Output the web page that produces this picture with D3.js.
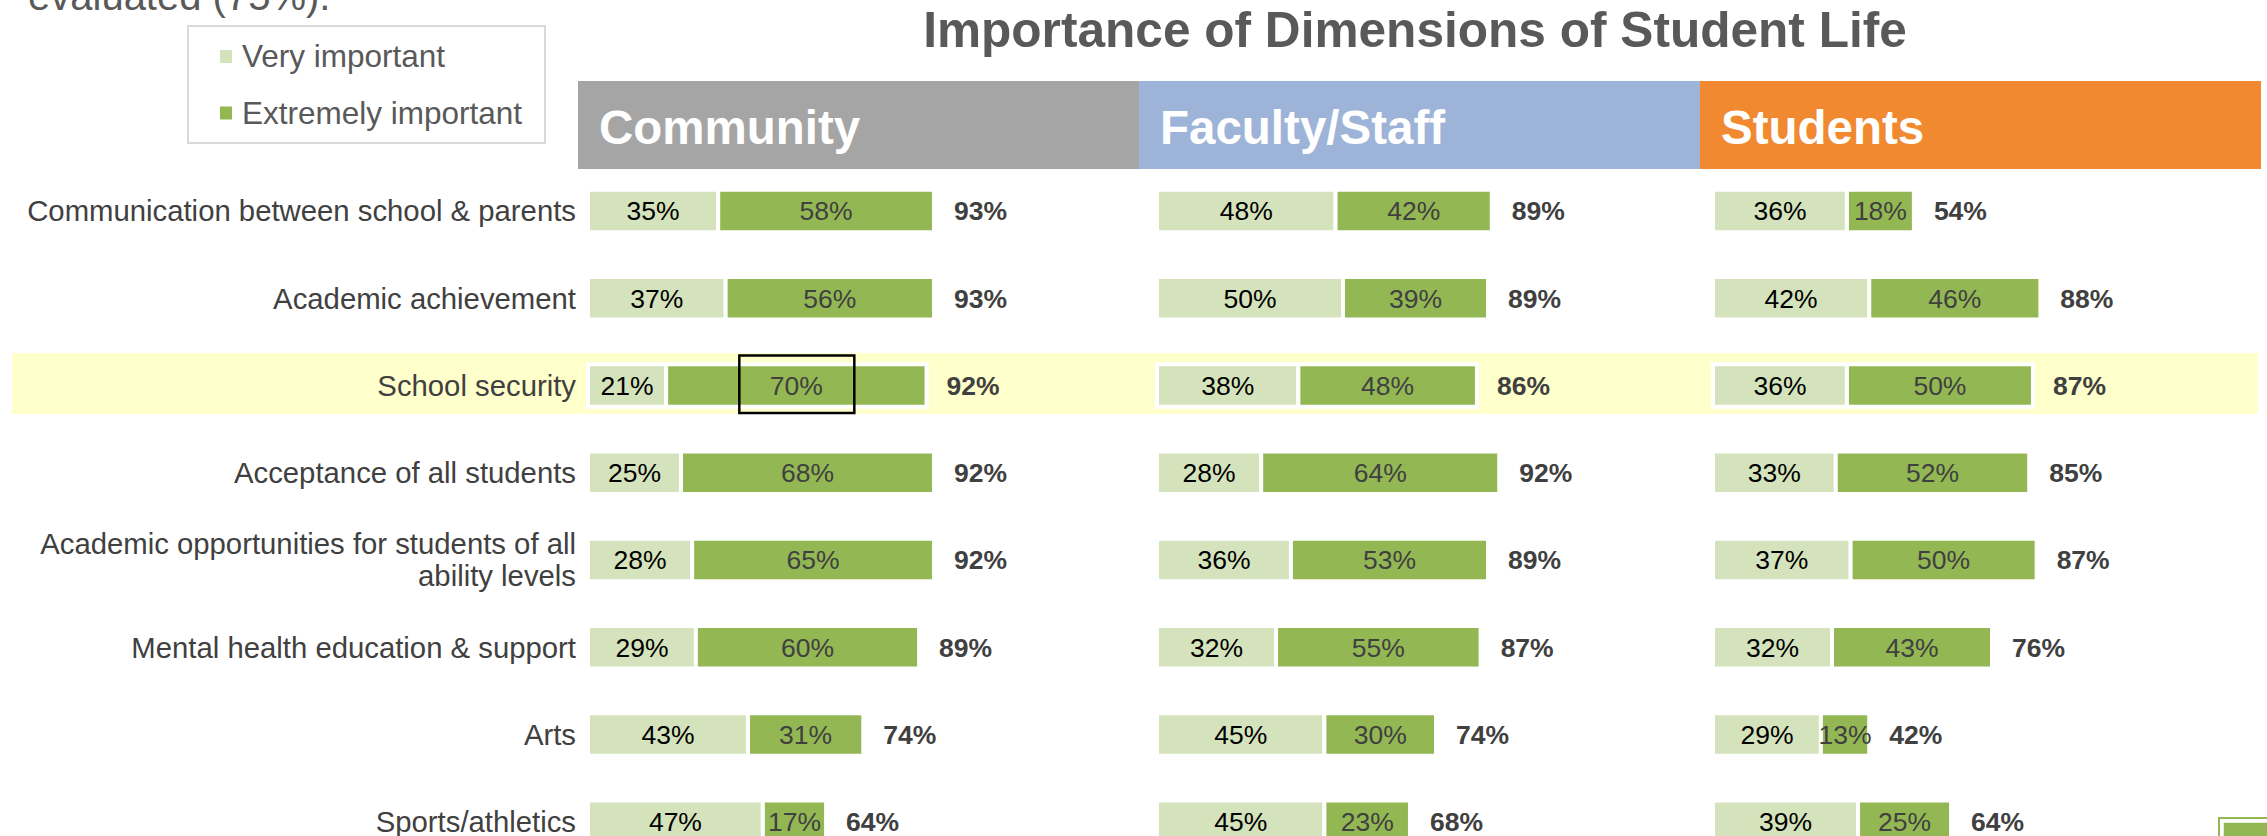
<!DOCTYPE html>
<html>
<head>
  <meta charset='utf-8'>
  <title>Importance of Dimensions of Student Life</title>
  <script src='https://cdn.jsdelivr.net/npm/d3@7/dist/d3.min.js'></script>
  <style type='text/css'>
    body {
      margin: 0;
      background: #fff;
    }
    svg text {
      font-family: Arial, 'Liberation Sans', sans-serif;
    }
  </style>
</head>
<body>
  <div id='plot-container'></div>
  <script>
    // chart values
    const categories = [
        'Communication between school & parents',
        'Academic achievement',
        'School security',
        'Acceptance of all students',
        'Academic opportunities for students of all\nability levels',
        'Mental health education & support',
        'Arts',
        'Sports/athletics'
    ];
    const groups = ['Community', 'Faculty/Staff', 'Students'];
    const seriesNames = ['Very important', 'Extremely important'];

    const communityVery = [35, 37, 21, 25, 28, 29, 43, 47];
    const communityExtreme = [58, 56, 70, 68, 65, 60, 31, 17];
    const communityTotal = [93, 93, 92, 92, 92, 89, 74, 64];

    const facultyVery = [48, 50, 38, 28, 36, 32, 45, 45];
    const facultyExtreme = [42, 39, 48, 64, 53, 55, 30, 23];
    const facultyTotal = [89, 89, 86, 92, 89, 87, 74, 68];

    const studentsVery = [36, 42, 36, 33, 37, 32, 29, 39];
    const studentsExtreme = [18, 46, 50, 52, 50, 43, 13, 25];
    const studentsTotal = [54, 88, 87, 85, 87, 76, 42, 64];

    const highlightRow = 'School security';

    // colours
    const lightGreen = '#d5e3bc';
    const darkGreen = '#93b853';
    const headerColors = ['#a5a5a5', '#9db3d8', '#f0892f'];
    const textDark = '#404040';
    const textGray = '#595959';

    const W = 2267, H = 836;
    const svg = d3.select('#plot-container').append('svg')
        .attr('width', W)
        .attr('height', H);

    // one table per column group, built from the arrays above
    const columns = [
        { name: groups[0], very: communityVery, extreme: communityExtreme, total: communityTotal, left: 578, barX: 588 },
        { name: groups[1], very: facultyVery, extreme: facultyExtreme, total: facultyTotal, left: 1139, barX: 1157 },
        { name: groups[2], very: studentsVery, extreme: studentsExtreme, total: studentsTotal, left: 1700, barX: 1713 }
    ];
    const headerW = 561;

    // rows
    const rowStep = 87.25;
    const firstRow = 211;
    const y = d3.scaleBand()
        .domain(categories)
        .range([firstRow - rowStep / 2, firstRow - rowStep / 2 + rowStep * categories.length])
        .padding(0);
    const yc = d => y(d) + y.bandwidth() / 2;
    const barH = 42.5;

    // highlighted row band
    const hiCat = categories.find(c => c.startsWith(highlightRow));
    svg.append('rect')
        .attr('x', 12)
        .attr('y', yc(hiCat) - 32.5)
        .attr('width', 2246)
        .attr('height', 61)
        .attr('fill', '#ffffcc');

    // title and cut-off text from slide above
    svg.append('text')
        .attr('x', 28)
        .attr('y', 10)
        .attr('font-size', 40)
        .attr('fill', textGray)
        .text('evaluated (75%).');
    svg.append('text')
        .attr('x', 1415)
        .attr('y', 47)
        .attr('text-anchor', 'middle')
        .attr('font-size', 49.6)
        .attr('font-weight', 'bold')
        .attr('fill', textGray)
        .text('Importance of Dimensions of Student Life');

    // legend
    const legend = svg.append('g');
    legend.append('rect')
        .attr('x', 188).attr('y', 26)
        .attr('width', 357).attr('height', 117)
        .attr('fill', '#fff')
        .attr('stroke', '#d9d9d9')
        .attr('stroke-width', 2);
    seriesNames.forEach((name, i) => {
        const ly = 56 + i * 56.5;
        legend.append('rect')
            .attr('x', 220).attr('y', ly - 6)
            .attr('width', 12).attr('height', 13)
            .attr('fill', i === 0 ? lightGreen : darkGreen);
        legend.append('text')
            .attr('x', 242).attr('y', ly)
            .attr('dy', '0.35em')
            .attr('font-size', 31.5)
            .attr('fill', textGray)
            .text(name);
    });

    // category labels
    const labels = svg.append('g');
    categories.forEach(c => {
        const lines = c.split('\n');
        const lh = 32;
        lines.forEach((line, j) => {
            labels.append('text')
                .attr('x', 576)
                .attr('y', yc(c) + (j - (lines.length - 1) / 2) * lh)
                .attr('dy', '0.35em')
                .attr('text-anchor', 'end')
                .attr('font-size', 29.3)
                .attr('fill', textDark)
                .text(line);
        });
    });

    // each column: header + stacked bars
    columns.forEach((col, ci) => {
        const g = svg.append('g');
        g.append('rect')
            .attr('x', col.left).attr('y', 81)
            .attr('width', headerW).attr('height', 88)
            .attr('fill', headerColors[ci]);
        g.append('text')
            .attr('x', col.left + 21).attr('y', 144)
            .attr('font-size', 47.5)
            .attr('font-weight', 'bold')
            .attr('fill', '#fff')
            .text(col.name);

        const x = d3.scaleLinear()
            .domain([0, 100])
            .range([col.barX, col.barX + 372]);

        const rows = categories.map((c, i) => ({
            cat: c, very: col.very[i], extreme: col.extreme[i], total: col.total[i]
        }));

        const row = g.selectAll('.row')
            .data(rows)
            .enter()
            .append('g')
            .attr('class', 'row');

        row.append('rect')
            .attr('x', d => x(0))
            .attr('y', d => yc(d.cat) - barH / 2)
            .attr('width', d => x(d.very) - x(0))
            .attr('height', barH)
            .attr('fill', lightGreen)
            .attr('stroke', '#fff')
            .attr('stroke-width', 4);
        row.append('rect')
            .attr('x', d => x(d.very))
            .attr('y', d => yc(d.cat) - barH / 2)
            .attr('width', d => x(d.very + d.extreme) - x(d.very))
            .attr('height', barH)
            .attr('fill', darkGreen)
            .attr('stroke', '#fff')
            .attr('stroke-width', 4);

        row.append('text')
            .attr('x', d => (x(0) + x(d.very)) / 2)
            .attr('y', d => yc(d.cat))
            .attr('dy', '0.35em')
            .attr('text-anchor', 'middle')
            .attr('font-size', 26.5)
            .attr('fill', '#000')
            .text(d => d.very + '%');
        row.append('text')
            .attr('x', d => (x(d.very) + x(d.very + d.extreme)) / 2)
            .attr('y', d => yc(d.cat))
            .attr('dy', '0.35em')
            .attr('text-anchor', 'middle')
            .attr('font-size', 26.5)
            .attr('fill', textDark)
            .text(d => d.extreme + '%');
        row.append('text')
            .attr('x', d => x(d.very + d.extreme) + 20)
            .attr('y', d => yc(d.cat))
            .attr('dy', '0.35em')
            .attr('font-size', 26.5)
            .attr('font-weight', 'bold')
            .attr('fill', textDark)
            .text(d => d.total + '%');

        // selection box around the community "extremely important" value
        if (ci === 0) {
            const d = rows.find(r => r.cat === hiCat);
            const cx = (x(d.very) + x(d.very + d.extreme)) / 2;
            g.append('rect')
                .attr('x', cx - 57)
                .attr('y', yc(hiCat) - 30)
                .attr('width', 115)
                .attr('height', 57.5)
                .attr('fill', 'none')
                .attr('stroke', '#000')
                .attr('stroke-width', 2.5);
        }
    });

    // corner icon from the slide, partly cut off
    svg.append('rect')
        .attr('x', 2219).attr('y', 818)
        .attr('width', 60).attr('height', 30)
        .attr('fill', 'none')
        .attr('stroke', darkGreen)
        .attr('stroke-width', 2);
    svg.append('rect')
        .attr('x', 2223).attr('y', 822)
        .attr('width', 60).attr('height', 30)
        .attr('fill', darkGreen)
        .attr('stroke', '#fff')
        .attr('stroke-width', 1.5);
  </script>
</body>
</html>
